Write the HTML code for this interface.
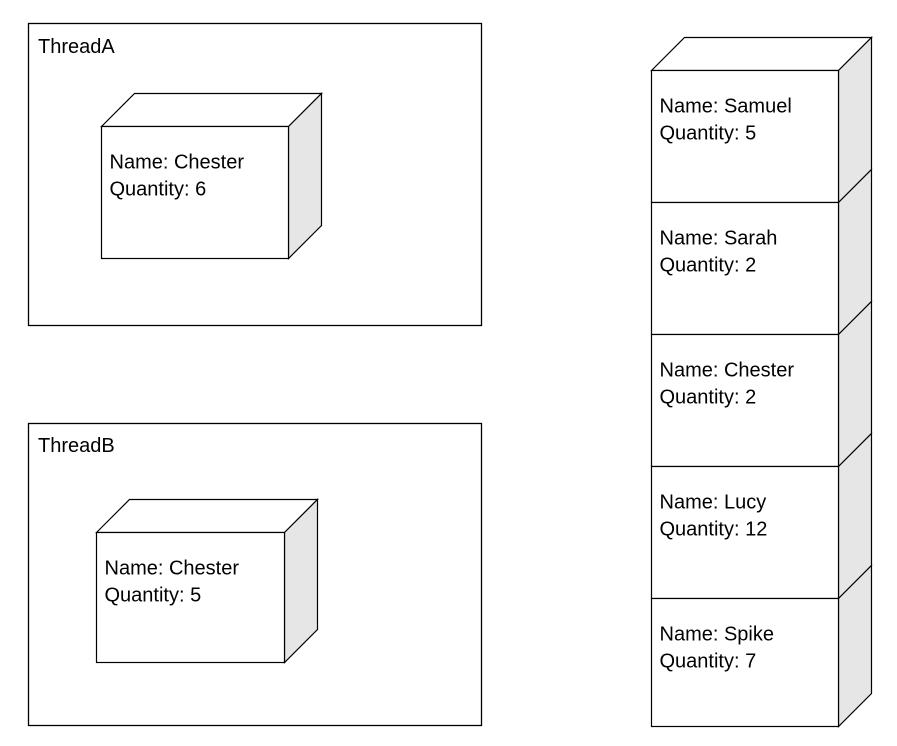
<!DOCTYPE html>
<html><head><meta charset="utf-8"><style>
html,body{margin:0;padding:0;background:#fff;}
svg{display:block;font-family:"Liberation Sans",sans-serif;}
text{font-size:20px;fill:#000;}
</style></head><body>
<svg id="d" width="897" height="746" viewBox="0 0 897 746">
<rect x="28.5" y="23.5" width="453" height="302" fill="#fff" stroke="#000" stroke-width="1.3"/>
<text x="38" y="53">ThreadA</text>
<rect x="28.5" y="423.5" width="453" height="302" fill="#fff" stroke="#000" stroke-width="1.3"/>
<text x="38" y="452">ThreadB</text>
</svg>
<script>
const names = ["Samuel","Sarah","Chester","Lucy","Spike"];
const quantities = [5,2,2,12,7];
const threadNames = ["Chester","Chester"];
const threadQuantities = [6,5];
const NS="http://www.w3.org/2000/svg";
const svg=document.getElementById('d');
function mk(tag,attrs,parent){const e=document.createElementNS(NS,tag);for(const k in attrs)e.setAttribute(k,attrs[k]);(parent||svg).appendChild(e);return e;}
function cube(x,y,w,h,d,name,qty,label,top){
  const g=mk('g',{});
  
  
  if(top) mk('polygon',{points:`${x},${y} ${x+d},${y-d} ${x+w+d},${y-d} ${x+w},${y}`,fill:'#fff',stroke:'#000','stroke-width':1.2},g);
  mk('polygon',{points:`${x+w},${y} ${x+w+d},${y-d} ${x+w+d},${y+h-d} ${x+w},${y+h}`,fill:'#e6e6e6',stroke:'#000','stroke-width':1.2},g);
  mk('rect',{x:x,y:y,width:w,height:h,fill:'#fff',stroke:'#000','stroke-width':1.2},g);
  const t1=mk('text',{x:x+8,y:y+42},g);t1.textContent='Name: '+name;
  const t2=mk('text',{x:x+8,y:y+69},g);t2.textContent='Quantity: '+qty;
  return g;
}
cube(101.5,126.5,187,132,33,threadNames[0],threadQuantities[0],'thread-a-item',true);
cube(96.5,532.5,188,130,33,threadNames[1],threadQuantities[1],'thread-b-item',true);
const rowH=[132,132,132,132,128];
let y=70.5;
for(let i=0;i<names.length;i++){
  cube(651.5,y,187,rowH[i],33,names[i],quantities[i],'stack-item-'+names[i].toLowerCase(),i===0);
  y+=rowH[i];
}
</script>
</body></html>
